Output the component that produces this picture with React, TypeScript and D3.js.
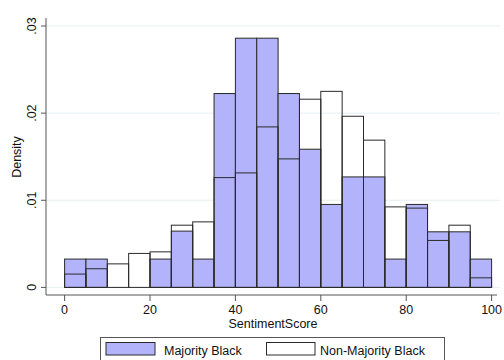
import React from "react";
import * as d3 from "d3";

const binStarts = [0, 5, 10, 15, 20, 25, 30, 35, 40, 45, 50, 55, 60, 65, 70, 75, 80, 85, 90, 95];
const majorityBlack = [0.00325, 0.00325, 0, 0, 0.00325, 0.00646, 0.00325, 0.02225, 0.0286, 0.0286, 0.02225, 0.01586, 0.00952, 0.01268, 0.01268, 0.00325, 0.00952, 0.00638, 0.00638, 0.00325];
const nonMajorityBlack = [0.00153, 0.00214, 0.0027, 0.0039, 0.00408, 0.00714, 0.00752, 0.0126, 0.01314, 0.01842, 0.01475, 0.0216, 0.0225, 0.01964, 0.0169, 0.00924, 0.0091, 0.00539, 0.00714, 0.0011];
const xTicks = [0, 20, 40, 60, 80, 100];
const yTicks = [0, 0.01, 0.02, 0.03];
const yTickLabels = ["0", ".01", ".02", ".03"];
const binWidth = 5;

const W = 504;
const H = 360;
const FONT = "'Liberation Sans', Arial, Helvetica, sans-serif";
const BLUE = "#b3b3fb";
const STROKE = "#2a2a2a";

export default function App() {
  const x = d3.scaleLinear().domain([0, 100]).range([64.6, 491.6]);
  const y = d3.scaleLinear().domain([0, 0.03]).range([287.4, 26]);
  const plotLeft = 46;
  const plotRight = 500;
  const axisY = 295;

  return (
    <svg width={W} height={H} style={{ position: "absolute", left: 0, top: 0, background: "#fff" }}>
      <rect x={0} y={0} width={W} height={H} fill="#fff" />
      {yTicks.map((t, i) => (
        <line key={"g" + i} x1={plotLeft} x2={plotRight} y1={y(t)} y2={y(t)} stroke="#e8f0f2" strokeWidth={1} />
      ))}
      {binStarts.map((b, i) => (
        <rect
          key={"m" + i}
          x={x(b)}
          y={y(majorityBlack[i])}
          width={x(b + binWidth) - x(b)}
          height={y(0) - y(majorityBlack[i])}
          fill={BLUE}
          stroke={majorityBlack[i] > 0 ? STROKE : "none"}
          strokeWidth={1}
        />
      ))}
      {binStarts.map((b, i) => (
        <rect
          key={"n" + i}
          x={x(b)}
          y={y(nonMajorityBlack[i])}
          width={x(b + binWidth) - x(b)}
          height={y(0) - y(nonMajorityBlack[i])}
          fill="none"
          stroke={STROKE}
          strokeWidth={1}
        />
      ))}
      {/* y axis */}
      <line x1={plotLeft} x2={plotLeft} y1={18} y2={axisY} stroke="#555" strokeWidth={1} />
      {yTicks.map((t, i) => (
        <g key={"yt" + i}>
          <line x1={plotLeft - 5} x2={plotLeft} y1={y(t)} y2={y(t)} stroke="#555" strokeWidth={1} />
          <text
            transform={`translate(${35.5},${y(t)}) rotate(-90)`}
            textAnchor="middle"
            fontFamily={FONT}
            fontSize={12.5}
            fill="#111"
          >
            {yTickLabels[i]}
          </text>
        </g>
      ))}
      <text transform={`translate(21,157) rotate(-90)`} textAnchor="middle" fontFamily={FONT} fontSize={12.5} fill="#111">
        Density
      </text>
      {/* x axis */}
      <line x1={plotLeft} x2={plotRight - 3} y1={axisY} y2={axisY} stroke="#555" strokeWidth={1} />
      {xTicks.map((t, i) => (
        <g key={"xt" + i}>
          <line x1={x(t)} x2={x(t)} y1={axisY} y2={axisY + 6} stroke="#555" strokeWidth={1} />
          <text x={x(t)} y={313.5} textAnchor="middle" fontFamily={FONT} fontSize={12.5} fill="#111">
            {t}
          </text>
        </g>
      ))}
      <text x={273} y={328.3} textAnchor="middle" fontFamily={FONT} fontSize={12.5} fill="#111">
        SentimentScore
      </text>
      {/* legend */}
      <rect x={100.5} y={337.5} width={344} height={30} fill="#fff" stroke="#555" strokeWidth={1} />
      <rect x={106} y={342.5} width={49} height={12.5} fill={BLUE} stroke={STROKE} strokeWidth={1} />
      <text x={164} y={355} fontFamily={FONT} fontSize={12.5} fill="#111">
        Majority Black
      </text>
      <rect x={266.5} y={342.5} width={48.5} height={12.5} fill="#fff" stroke={STROKE} strokeWidth={1} />
      <text x={320} y={355} fontFamily={FONT} fontSize={12.5} fill="#111">
        Non-Majority Black
      </text>
    </svg>
  );
}
